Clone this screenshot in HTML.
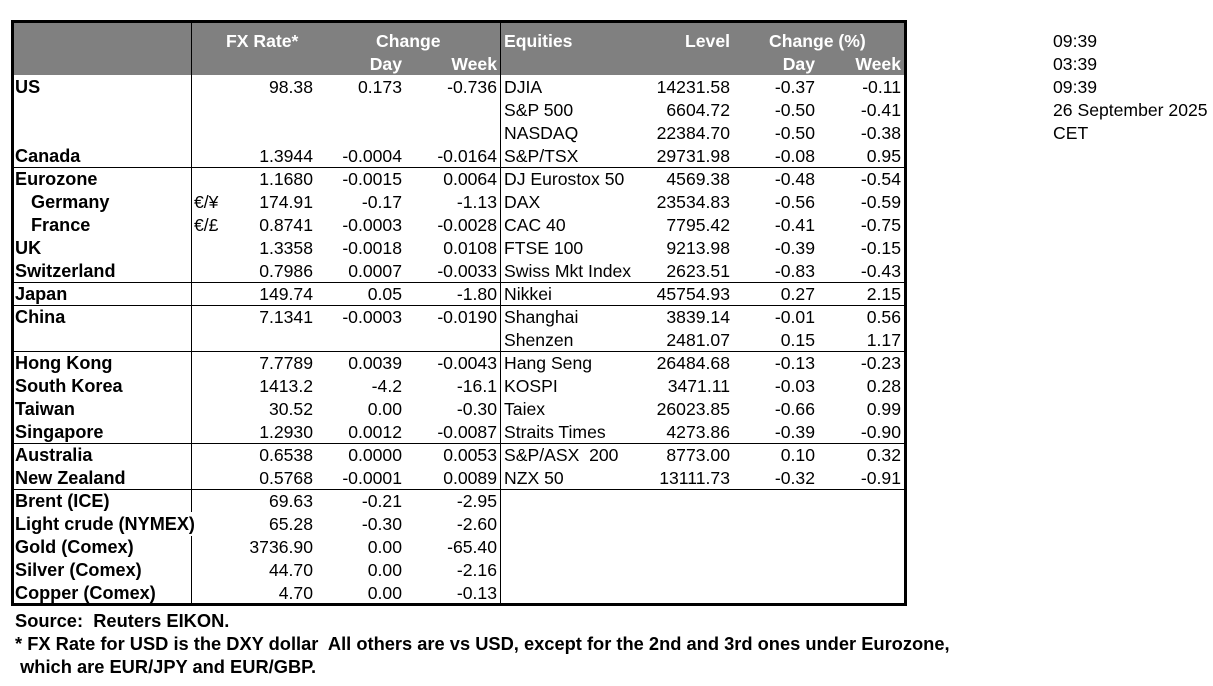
<!DOCTYPE html>
<html><head><meta charset="utf-8"><style>
body{margin:0;background:#fff;width:1213px;height:686px;position:relative;overflow:hidden;font-family:"Liberation Sans",Arial,sans-serif;font-size:17.6px;color:#000}
.box{position:absolute;left:11px;top:20px;width:890px;height:580px;border:3px solid #000}
.hdr{position:absolute;left:14px;top:23px;width:890px;height:52px;background:#808080}
.vl{position:absolute;width:1px;background:#000}
.hl{position:absolute;height:1px;background:#000}
.r{position:absolute;left:0;width:1213px;height:23px;line-height:24px}
.r span{position:absolute;white-space:nowrap}
.n{left:15px;font-weight:bold;font-size:18.1px}
.i{left:31px;font-weight:bold;font-size:18.1px}
.s{left:194px}
.fx{right:900px}
.d{right:811px}
.w{right:716px}
.e{left:504px}
.l{right:483px}
.cd{right:398px}
.cw{right:312px}
.h{color:#fff;font-weight:bold}
.t{left:1053px}
.f{position:absolute;left:15px;font-weight:bold;font-size:18.3px;line-height:23px;white-space:pre}
</style></head><body>
<div class="hdr"></div>
<div class="box"></div>
<div class="vl" style="left:191px;top:23px;height:581px"></div>
<div class="vl" style="left:500px;top:23px;height:581px"></div>
<div class="hl" style="left:14px;top:167px;width:890px"></div>
<div class="hl" style="left:14px;top:282px;width:890px"></div>
<div class="hl" style="left:14px;top:305px;width:890px"></div>
<div class="hl" style="left:14px;top:351px;width:890px"></div>
<div class="hl" style="left:14px;top:443px;width:890px"></div>
<div class="hl" style="left:14px;top:489px;width:890px"></div>

<div class="r" style="top:29px"><span class="h" style="left:226px">FX Rate*</span><span class="h" style="left:376px">Change</span><span class="h e">Equities</span><span class="h l">Level</span><span class="h" style="left:769px">Change (%)</span><span class="t">09:39</span></div>
<div class="r" style="top:52px"><span class="h d">Day</span><span class="h w">Week</span><span class="h cd">Day</span><span class="h cw">Week</span><span class="t">03:39</span></div>

<div class="r" style="top:75px"><span class="n">US</span><span class="fx">98.38</span><span class="d">0.173</span><span class="w">-0.736</span><span class="e">DJIA</span><span class="l">14231.58</span><span class="cd">-0.37</span><span class="cw">-0.11</span><span class="t">09:39</span></div>
<div class="r" style="top:98px"><span class="e">S&amp;P 500</span><span class="l">6604.72</span><span class="cd">-0.50</span><span class="cw">-0.41</span><span class="t">26 September 2025</span></div>
<div class="r" style="top:121px"><span class="e">NASDAQ</span><span class="l">22384.70</span><span class="cd">-0.50</span><span class="cw">-0.38</span><span class="t">CET</span></div>
<div class="r" style="top:144px"><span class="n">Canada</span><span class="fx">1.3944</span><span class="d">-0.0004</span><span class="w">-0.0164</span><span class="e">S&amp;P/TSX</span><span class="l">29731.98</span><span class="cd">-0.08</span><span class="cw">0.95</span></div>
<div class="r" style="top:167px"><span class="n">Eurozone</span><span class="fx">1.1680</span><span class="d">-0.0015</span><span class="w">0.0064</span><span class="e">DJ Eurostox 50</span><span class="l">4569.38</span><span class="cd">-0.48</span><span class="cw">-0.54</span></div>
<div class="r" style="top:190px"><span class="i">Germany</span><span class="s">€/¥</span><span class="fx">174.91</span><span class="d">-0.17</span><span class="w">-1.13</span><span class="e">DAX</span><span class="l">23534.83</span><span class="cd">-0.56</span><span class="cw">-0.59</span></div>
<div class="r" style="top:213px"><span class="i">France</span><span class="s">€/£</span><span class="fx">0.8741</span><span class="d">-0.0003</span><span class="w">-0.0028</span><span class="e">CAC 40</span><span class="l">7795.42</span><span class="cd">-0.41</span><span class="cw">-0.75</span></div>
<div class="r" style="top:236px"><span class="n">UK</span><span class="fx">1.3358</span><span class="d">-0.0018</span><span class="w">0.0108</span><span class="e">FTSE 100</span><span class="l">9213.98</span><span class="cd">-0.39</span><span class="cw">-0.15</span></div>
<div class="r" style="top:259px"><span class="n">Switzerland</span><span class="fx">0.7986</span><span class="d">0.0007</span><span class="w">-0.0033</span><span class="e">Swiss Mkt Index</span><span class="l">2623.51</span><span class="cd">-0.83</span><span class="cw">-0.43</span></div>
<div class="r" style="top:282px"><span class="n">Japan</span><span class="fx">149.74</span><span class="d">0.05</span><span class="w">-1.80</span><span class="e">Nikkei</span><span class="l">45754.93</span><span class="cd">0.27</span><span class="cw">2.15</span></div>
<div class="r" style="top:305px"><span class="n">China</span><span class="fx">7.1341</span><span class="d">-0.0003</span><span class="w">-0.0190</span><span class="e">Shanghai</span><span class="l">3839.14</span><span class="cd">-0.01</span><span class="cw">0.56</span></div>
<div class="r" style="top:328px"><span class="e">Shenzen</span><span class="l">2481.07</span><span class="cd">0.15</span><span class="cw">1.17</span></div>
<div class="r" style="top:351px"><span class="n">Hong Kong</span><span class="fx">7.7789</span><span class="d">0.0039</span><span class="w">-0.0043</span><span class="e">Hang Seng</span><span class="l">26484.68</span><span class="cd">-0.13</span><span class="cw">-0.23</span></div>
<div class="r" style="top:374px"><span class="n">South Korea</span><span class="fx">1413.2</span><span class="d">-4.2</span><span class="w">-16.1</span><span class="e">KOSPI</span><span class="l">3471.11</span><span class="cd">-0.03</span><span class="cw">0.28</span></div>
<div class="r" style="top:397px"><span class="n">Taiwan</span><span class="fx">30.52</span><span class="d">0.00</span><span class="w">-0.30</span><span class="e">Taiex</span><span class="l">26023.85</span><span class="cd">-0.66</span><span class="cw">0.99</span></div>
<div class="r" style="top:420px"><span class="n">Singapore</span><span class="fx">1.2930</span><span class="d">0.0012</span><span class="w">-0.0087</span><span class="e">Straits Times</span><span class="l">4273.86</span><span class="cd">-0.39</span><span class="cw">-0.90</span></div>
<div class="r" style="top:443px"><span class="n">Australia</span><span class="fx">0.6538</span><span class="d">0.0000</span><span class="w">0.0053</span><span class="e">S&amp;P/ASX&nbsp; 200</span><span class="l">8773.00</span><span class="cd">0.10</span><span class="cw">0.32</span></div>
<div class="r" style="top:466px"><span class="n">New Zealand</span><span class="fx">0.5768</span><span class="d">-0.0001</span><span class="w">0.0089</span><span class="e">NZX 50</span><span class="l">13111.73</span><span class="cd">-0.32</span><span class="cw">-0.91</span></div>
<div class="r" style="top:489px"><span class="n">Brent (ICE)</span><span class="fx">69.63</span><span class="d">-0.21</span><span class="w">-2.95</span></div>
<div class="r" style="top:512px"><span class="n" style="background:#fff;padding-right:1px">Light crude (NYMEX)</span><span class="fx">65.28</span><span class="d">-0.30</span><span class="w">-2.60</span></div>
<div class="r" style="top:535px"><span class="n">Gold (Comex)</span><span class="fx">3736.90</span><span class="d">0.00</span><span class="w">-65.40</span></div>
<div class="r" style="top:558px"><span class="n">Silver (Comex)</span><span class="fx">44.70</span><span class="d">0.00</span><span class="w">-2.16</span></div>
<div class="r" style="top:581px"><span class="n">Copper (Comex)</span><span class="fx">4.70</span><span class="d">0.00</span><span class="w">-0.13</span></div>

<div class="f" style="top:609px">Source:  Reuters EIKON.</div>
<div class="f" style="top:632px">* FX Rate for USD is the DXY dollar  All others are vs USD, except for the 2nd and 3rd ones under Eurozone,</div>
<div class="f" style="top:655px"> which are EUR/JPY and EUR/GBP.</div>
</body></html>
